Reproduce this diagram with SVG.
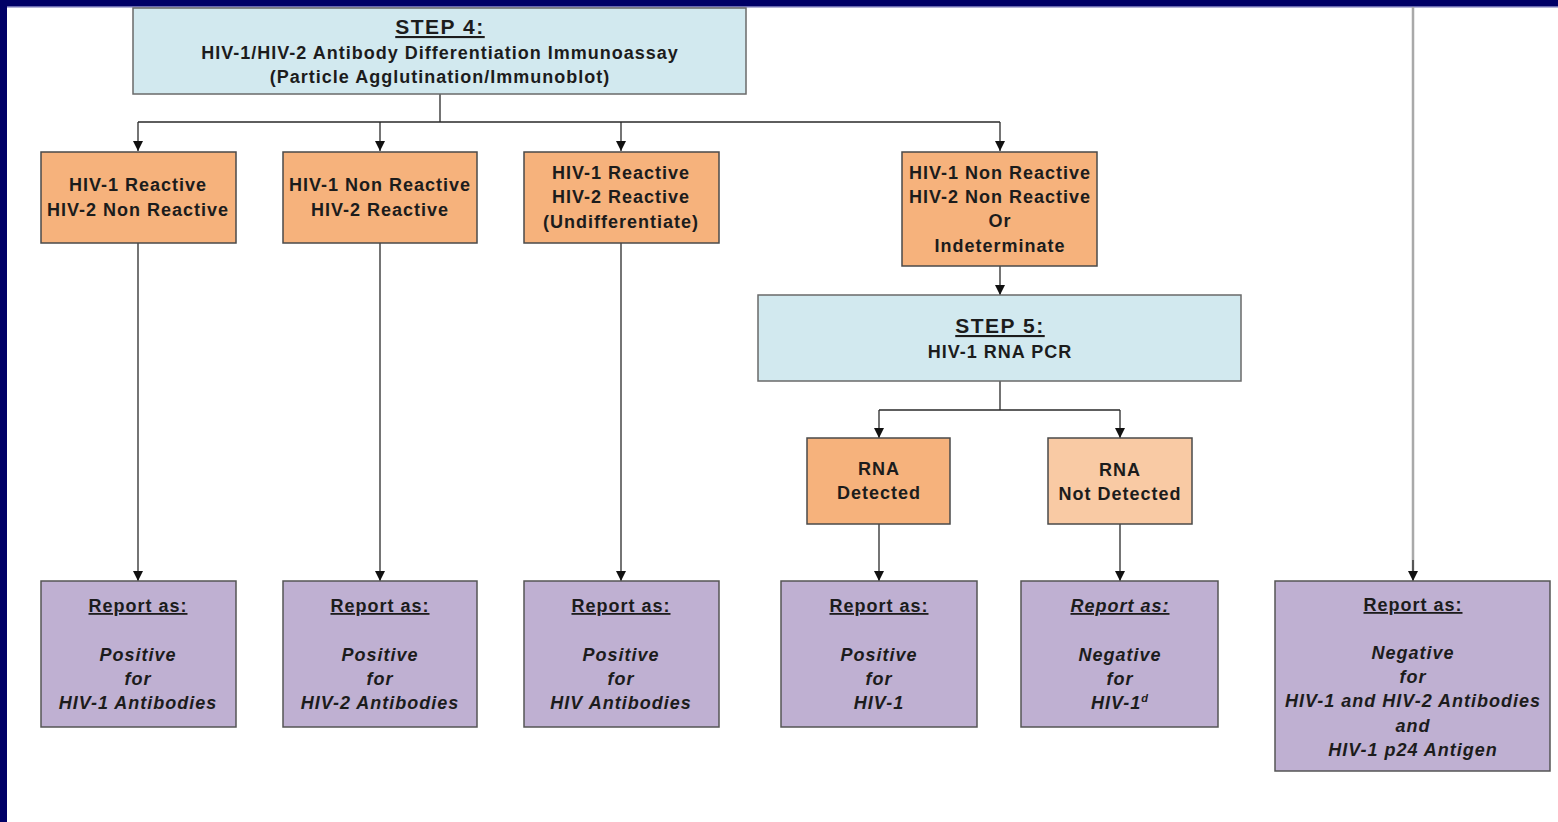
<svg xmlns="http://www.w3.org/2000/svg" width="1558" height="822" viewBox="0 0 1558 822">
<defs>
<style>
.t{font-family:"Liberation Sans",Arial,sans-serif;font-weight:bold;font-size:18px;fill:#1c1c1c;text-anchor:middle;letter-spacing:1px}
.h{font-size:21px;letter-spacing:1.5px}
.i{font-style:italic}
.u{text-decoration:underline}
.blue{fill:#d2e9ef;stroke:#6a6a6a;stroke-width:1.5}
.or{fill:#f6b27c;stroke:#4a4a4a;stroke-width:1.5}
.orl{fill:#f9caa4;stroke:#4a4a4a;stroke-width:1.5}
.pu{fill:#bfb0d2;stroke:#555;stroke-width:1.5}
.c{fill:none;stroke:#2a2a2a;stroke-width:1.3}
</style>
<marker id="ah" viewBox="0 0 10 10" refX="10" refY="5" markerWidth="10" markerHeight="10" markerUnits="userSpaceOnUse" orient="auto">
<path d="M0,0 L10,5 L0,10 z" fill="#111"/>
</marker>
</defs>
<rect x="0" y="0" width="1558" height="822" fill="#ffffff"/>
<rect x="0" y="0" width="1558" height="6" fill="#000066"/>
<rect x="0" y="6" width="1558" height="1.5" fill="#6a6ab0"/>
<rect x="0" y="0" width="7" height="822" fill="#000066"/>

<g id="connectors">
<path class="c" d="M440,94 V122 M138,122 H1000"/>
<path class="c" d="M138,122 V151" marker-end="url(#ah)"/>
<path class="c" d="M380,122 V151" marker-end="url(#ah)"/>
<path class="c" d="M621,122 V151" marker-end="url(#ah)"/>
<path class="c" d="M1000,122 V151" marker-end="url(#ah)"/>
<path class="c" d="M138,243 V581" marker-end="url(#ah)"/>
<path class="c" d="M380,243 V581" marker-end="url(#ah)"/>
<path class="c" d="M621,243 V581" marker-end="url(#ah)"/>
<path class="c" d="M1000,266 V295" marker-end="url(#ah)"/>
<path class="c" d="M1000,381 V410 M879,410 H1120"/>
<path class="c" d="M879,410 V438" marker-end="url(#ah)"/>
<path class="c" d="M1120,410 V438" marker-end="url(#ah)"/>
<path class="c" d="M879,524 V581" marker-end="url(#ah)"/>
<path class="c" d="M1120,524 V581" marker-end="url(#ah)"/>
<path d="M1413,7 V574" fill="none" stroke="#a9a9a9" stroke-width="2.5"/>
<path class="c" d="M1413,560 V581" marker-end="url(#ah)"/>
</g>

<g id="step4">
<rect class="blue" x="133" y="8" width="613" height="86"/>
<text class="t h u" x="440" y="34">STEP 4:</text>
<text class="t" x="440" y="59" letter-spacing="0.5">HIV-1/HIV-2 Antibody Differentiation Immunoassay</text>
<text class="t" x="440" y="83" letter-spacing="0.5">(Particle Agglutination/Immunoblot)</text>
</g>

<g id="r1">
<rect class="or" x="41" y="152" width="195" height="91"/>
<text class="t" x="138" y="191">HIV-1 Reactive</text>
<text class="t" x="138" y="216">HIV-2 Non Reactive</text>
</g>
<g id="r2">
<rect class="or" x="283" y="152" width="194" height="91"/>
<text class="t" x="380" y="191">HIV-1 Non Reactive</text>
<text class="t" x="380" y="216">HIV-2 Reactive</text>
</g>
<g id="r3">
<rect class="or" x="524" y="152" width="195" height="91"/>
<text class="t" x="621" y="179">HIV-1 Reactive</text>
<text class="t" x="621" y="203">HIV-2 Reactive</text>
<text class="t" x="621" y="228">(Undifferentiate)</text>
</g>
<g id="r4">
<rect class="or" x="902" y="152" width="195" height="114"/>
<text class="t" x="1000" y="179">HIV-1 Non Reactive</text>
<text class="t" x="1000" y="203">HIV-2 Non Reactive</text>
<text class="t" x="1000" y="227">Or</text>
<text class="t" x="1000" y="252">Indeterminate</text>
</g>

<g id="step5">
<rect class="blue" x="758" y="295" width="483" height="86"/>
<text class="t h u" x="1000" y="333">STEP 5:</text>
<text class="t" x="1000" y="358">HIV-1 RNA PCR</text>
</g>

<g id="rnaDetected">
<rect class="or" x="807" y="438" width="143" height="86"/>
<text class="t" x="879" y="475">RNA</text>
<text class="t" x="879" y="499">Detected</text>
</g>
<g id="rnaNotDetected">
<rect class="orl" x="1048" y="438" width="144" height="86"/>
<text class="t" x="1120" y="476">RNA</text>
<text class="t" x="1120" y="500">Not Detected</text>
</g>

<g id="rep1">
<rect class="pu" x="41" y="581" width="195" height="146"/>
<text class="t u" x="138" y="612">Report as:</text>
<text class="t i" x="138" y="661">Positive</text>
<text class="t i" x="138" y="685">for</text>
<text class="t i" x="138" y="709">HIV-1 Antibodies</text>
</g>
<g id="rep2">
<rect class="pu" x="283" y="581" width="194" height="146"/>
<text class="t u" x="380" y="612">Report as:</text>
<text class="t i" x="380" y="661">Positive</text>
<text class="t i" x="380" y="685">for</text>
<text class="t i" x="380" y="709">HIV-2 Antibodies</text>
</g>
<g id="rep3">
<rect class="pu" x="524" y="581" width="195" height="146"/>
<text class="t u" x="621" y="612">Report as:</text>
<text class="t i" x="621" y="661">Positive</text>
<text class="t i" x="621" y="685">for</text>
<text class="t i" x="621" y="709">HIV Antibodies</text>
</g>
<g id="rep4">
<rect class="pu" x="781" y="581" width="196" height="146"/>
<text class="t u" x="879" y="612">Report as:</text>
<text class="t i" x="879" y="661">Positive</text>
<text class="t i" x="879" y="685">for</text>
<text class="t i" x="879" y="709">HIV-1</text>
</g>
<g id="rep5">
<rect class="pu" x="1021" y="581" width="197" height="146"/>
<text class="t u i" x="1120" y="612">Report as:</text>
<text class="t i" x="1120" y="661">Negative</text>
<text class="t i" x="1120" y="685">for</text>
<text class="t i" x="1120" y="709">HIV-1<tspan font-size="11" dy="-7">d</tspan></text>
</g>
<g id="rep6">
<rect class="pu" x="1275" y="581" width="275" height="190"/>
<text class="t u" x="1413" y="611">Report as:</text>
<text class="t i" x="1413" y="659">Negative</text>
<text class="t i" x="1413" y="683">for</text>
<text class="t i" x="1413" y="707">HIV-1 and HIV-2 Antibodies</text>
<text class="t i" x="1413" y="732">and</text>
<text class="t i" x="1413" y="756">HIV-1 p24 Antigen</text>
</g>
</svg>
